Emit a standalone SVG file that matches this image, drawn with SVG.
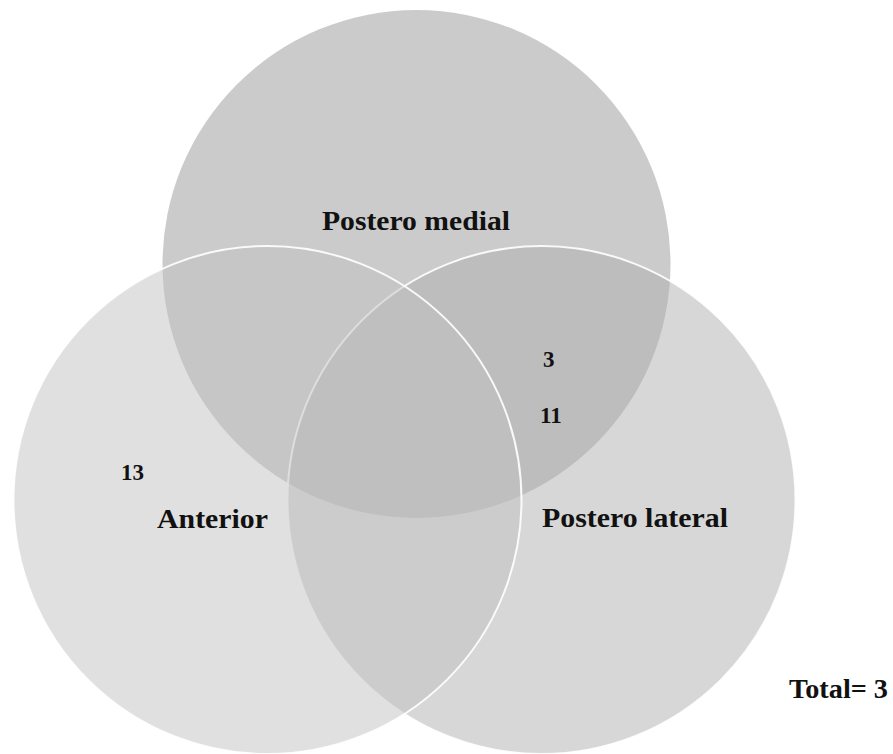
<svg xmlns="http://www.w3.org/2000/svg" width="893" height="754" viewBox="0 0 893 754">
<style>
.lbl{font-family:"Liberation Serif","Times New Roman",serif;font-weight:bold;font-size:27px;fill:#111111}
.num{font-family:"Liberation Serif","Times New Roman",serif;font-weight:bold;font-size:23px;fill:#111111}
.set{fill-opacity:0.5}
.edge{stroke:#ffffff;stroke-width:2;stroke-opacity:0.9}
</style>
<rect x="0" y="0" width="893" height="754" fill="#ffffff"/>
<g id="postero-medial">
<circle class="set" cx="416.5" cy="264" r="254" fill="#979797"/>
</g>
<g id="postero-lateral">
<circle class="set edge" cx="541.5" cy="500" r="254" fill="#afafaf"/>
</g>
<g id="anterior">
<circle class="set edge" cx="267.5" cy="500" r="254" fill="#c1c1c1"/>
</g>
<g id="connectors"></g>
<g id="labels">
<text class="lbl" x="322" y="230" textLength="188" lengthAdjust="spacingAndGlyphs">Postero medial</text>
<text class="lbl" x="157" y="528" textLength="111" lengthAdjust="spacingAndGlyphs">Anterior</text>
<text class="lbl" x="542" y="527" textLength="186" lengthAdjust="spacingAndGlyphs">Postero lateral</text>
<text class="lbl" x="789" y="698" textLength="99" lengthAdjust="spacingAndGlyphs">Total= 3</text>
<text class="num" x="543" y="367">3</text>
<text class="num" x="540" y="423">11</text>
<text class="num" x="121" y="480">13</text>
</g>
</svg>
